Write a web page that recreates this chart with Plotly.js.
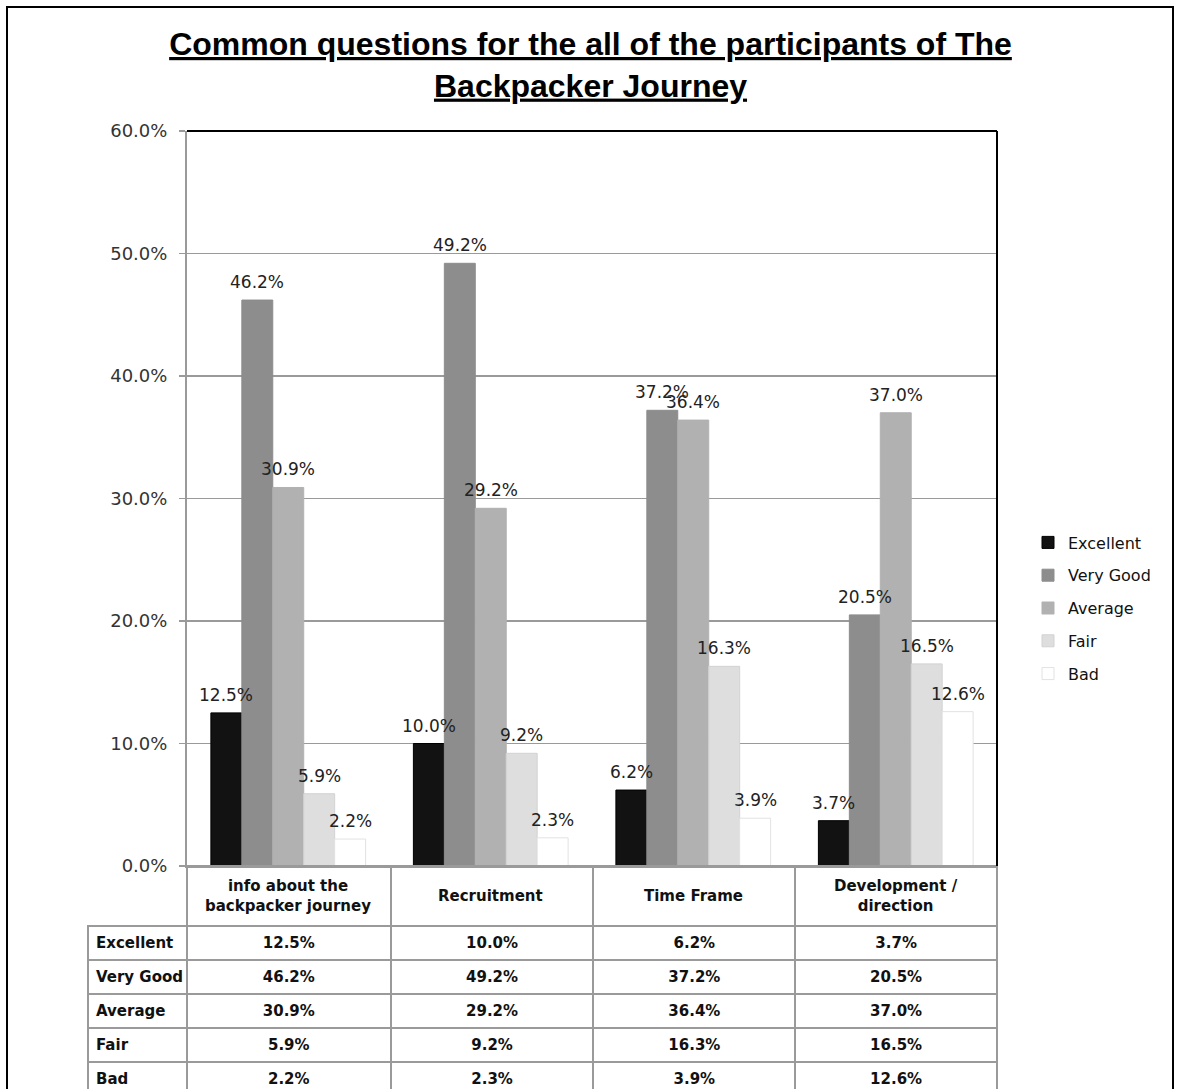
<!DOCTYPE html>
<html>
<head>
<meta charset="utf-8">
<script src="https://cdn.plot.ly/plotly-3.0.1.min.js"></script>
<style>html,body{margin:0;padding:0;background:#fff;} #chart{width:1181px;height:1089px;}</style>
</head>
<body>
<div id="chart"></div>
<script>
// ---- data ----
const categories = ['info about the backpacker journey', 'Recruitment', 'Time Frame', 'Development / direction'];
const categoryLabels = ['info about the<br>backpacker journey', 'Recruitment', 'Time Frame', 'Development /<br>direction'];
const seriesNames = ['Excellent', 'Very Good', 'Average', 'Fair', 'Bad'];
const excellent = [0.125, 0.100, 0.062, 0.037];
const veryGood  = [0.462, 0.492, 0.372, 0.205];
const average   = [0.309, 0.292, 0.364, 0.370];
const fair      = [0.059, 0.092, 0.163, 0.165];
const bad       = [0.022, 0.023, 0.039, 0.126];
const yTickValues = [0, 0.1, 0.2, 0.3, 0.4, 0.5, 0.6];

// ---- styles ----
const W = 1181, H = 1089;
const colors = ['#121212', '#8d8d8d', '#b1b1b1', '#dedede', '#ffffff'];
const lineColors = ['#000000', '#8d8d8d', '#b1b1b1', '#d2d2d2', '#e2e2e2'];
const seriesValues = [excellent, veryGood, average, fair, bad];
const fmt = v => (v * 100).toFixed(1) + '%';

const plotX0 = 187 / W, plotX1 = 997 / W;
const plotY0 = (H - 866) / H, plotY1 = (H - 131) / H;

// grouped layout (overlay with offsets)
const groupWidth = 0.764;
const barW = groupWidth / seriesNames.length;

const traces = [];
seriesValues.forEach((vals, i) => {
  traces.push({
    type: 'bar',
    name: seriesNames[i],
    x: categories,
    y: vals,
    width: barW,
    offset: -groupWidth / 2 + i * barW,
    marker: {color: colors[i], line: {color: lineColors[i], width: 1}},
    legendgroup: 'g' + i,
    hoverinfo: 'none'
  });
});

// data table
const tableValues = [seriesNames.map(n => '<b>' + n.replace(/ /g, '\u00a0') + '</b>')];
categories.forEach((c, ci) => {
  tableValues.push(seriesValues.map(vals => '<b>' + fmt(vals[ci]) + '</b>'));
});
traces.push({
  type: 'table',
  domain: {x: [88 / W, 998 / W], y: [0, plotY0]},
  columnwidth: [99, 204, 203, 202, 202],
  header: {
    values: ['', '', '', '', ''],
    height: 60,
    fill: {color: 'rgba(0,0,0,0)'},
    line: {color: ['rgba(0,0,0,0)', '#9a9a9a', '#9a9a9a', '#9a9a9a', '#9a9a9a'], width: 2},
    font: {family: 'DejaVu Sans', size: 14, color: '#111'}
  },
  cells: {
    values: tableValues,
    height: 32.4,
    align: ['left', 'center', 'center', 'center', 'center'],
    fill: {color: '#ffffff'},
    line: {color: '#9a9a9a', width: 2},
    font: {family: 'DejaVu Sans', size: 15, color: '#111'}
  }
});

// category header labels
const annotations = categories.map((c, i) => ({
  x: c, xref: 'x', yref: 'paper', y: (H - 896) / H,
  xanchor: 'center', yanchor: 'middle',
  text: '<b>' + categoryLabels[i] + '</b>',
  showarrow: false, align: 'center',
  font: {family: 'DejaVu Sans', size: 15, color: '#111'}
}));
// value labels above every bar
seriesValues.forEach((vals, i) => {
  vals.forEach((v, ci) => {
    annotations.push({
      x: ci - groupWidth / 2 + (i + 0.5) * barW, xref: 'x',
      y: v, yref: 'y',
      xanchor: 'center', yanchor: 'bottom', yshift: 6,
      text: fmt(v), showarrow: false,
      font: {family: 'DejaVu Sans', size: 17, color: '#222'}
    });
  });
});

const layout = {
  width: W, height: H,
  margin: {l: 0, r: 0, t: 0, b: 0},
  paper_bgcolor: '#ffffff',
  plot_bgcolor: '#ffffff',
  title: {
    text: '<b>Common questions for the all of the participants of The<br>Backpacker Journey</b>',
    x: 0.5, xanchor: 'center',
    y: 1 - 55 / H, yanchor: 'middle',
    font: {family: 'Liberation Sans, sans-serif', size: 32, color: '#000', lineposition: 'under'}
  },
  xaxis: {
    domain: [plotX0, plotX1],
    range: [-0.5, 3.5],
    showticklabels: false,
    ticks: '',
    showline: true, linecolor: '#9a9a9a', linewidth: 2,
    showgrid: false, zeroline: false
  },
  yaxis: {
    domain: [plotY0, plotY1],
    range: [0, 0.6],
    tickvals: yTickValues,
    tickformat: '.1%',
    ticks: 'outside', ticklen: 6, tickcolor: '#9a9a9a', tickwidth: 1.5,
    ticklabelstandoff: 8,
    tickfont: {family: 'DejaVu Sans', size: 18, color: '#333'},
    showline: true, linecolor: '#9a9a9a', linewidth: 2,
    showgrid: true, gridcolor: '#9a9a9a', gridwidth: 1.5,
    zeroline: false
  },
  barmode: 'overlay',
  showlegend: true,
  legend: {
    x: 1028 / W, xanchor: 'left',
    y: (H - 608) / H, yanchor: 'middle',
    font: {family: 'DejaVu Sans', size: 16, color: '#111'},
    traceorder: 'grouped',
    tracegroupgap: 9,
    bgcolor: 'rgba(0,0,0,0)'
  },
  annotations: annotations,
  shapes: [
    {type: 'line', xref: 'paper', yref: 'paper', x0: plotX0, x1: plotX1, y0: plotY1, y1: plotY1, line: {color: '#000', width: 2}},
    {type: 'line', xref: 'paper', yref: 'paper', x0: plotX1, x1: plotX1, y0: plotY0, y1: plotY1, line: {color: '#000', width: 2}},
    {type: 'rect', xref: 'paper', yref: 'paper', x0: 7 / W, x1: 1173 / W, y0: -0.05, y1: 1 - 7 / H, line: {color: '#000', width: 2}}
  ]
};

Plotly.newPlot('chart', traces, layout, {displayModeBar: false, staticPlot: true});
</script>
</body>
</html>
